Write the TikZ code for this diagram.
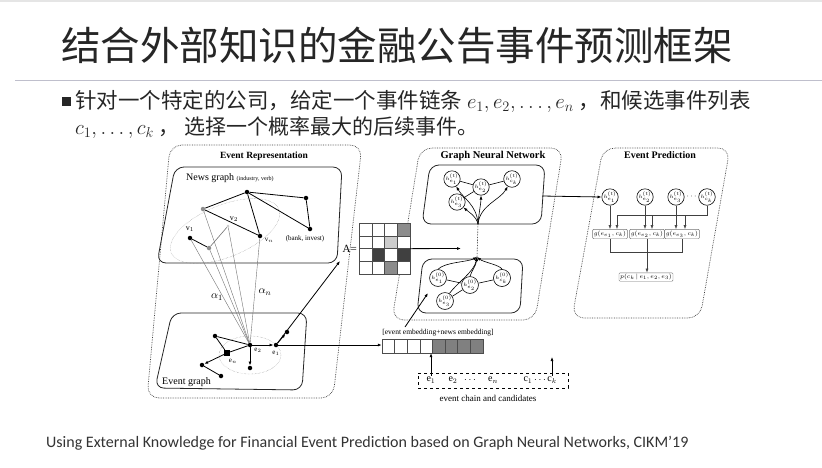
\documentclass[tikz,border=0pt]{standalone}
\usepackage{fontspec}
\setmainfont{Liberation Serif}
\newfontfamily\cjk{Noto Sans CJK SC}
\newfontfamily\footfont{Carlito}
\usetikzlibrary{arrows.meta,shapes.geometric}

\begin{document}
\begin{tikzpicture}
[x=1pt,y=-1pt,
  boxDecorate/.style={draw=black!75,densely dotted,line width=0.7pt,rounded corners=12pt},%
  panelDecorate/.style={draw=black!85,line width=0.8pt,rounded corners=9pt},%
  lineDecorate/.style={-,line width=0.8pt},%
  arrowDecorate/.style={-{Latex[length=4pt,width=3pt]},line width=0.6pt},%
  dotDecorate/.style={shape=circle,fill=black,inner sep=0pt,minimum size=4.5pt},%
  greyDecorate/.style={shape=circle,fill=black!45,inner sep=0pt,minimum size=4.5pt},%
  faintDecorate/.style={shape=circle,fill=black!20,inner sep=0pt,minimum size=3pt},%
  hDecorate/.style={shape=circle,draw,line width=0.6pt,inner sep=0pt,minimum size=14pt,font=\fontsize{5}{5}\selectfont},%
  gDecorate/.style={draw=black!55,rounded corners=1pt,inner sep=1.2pt,font=\fontsize{6}{6}\selectfont},%
  cellDecorate/.style={draw=black!70,line width=0.4pt,minimum size=12.7pt,inner sep=0pt},%
  labelDecorate/.style={inner sep=0pt,font=\fontsize{8}{8}\selectfont}]
\useasboundingbox (0,0) rectangle (822,467);
\fill[white] (0,0) rectangle (822,467);
\draw[black!10,line width=2pt] (0,1) -- (822,1);
\draw[blue!20!black!25,line width=1pt] (15,80) -- (822,80);

%% slide text
\node[anchor=west,inner sep=0pt,font=\cjk\fontsize{39.5}{39.5}\selectfont,text=black!85] (title) at (61,45) {结合外部知识的金融公告事件预测框架};
\node[fill=black!85,minimum size=9pt,inner sep=0pt] (bullet) at (66,101) {};
\node[anchor=west,inner sep=0pt,font=\cjk\fontsize{21.5}{21.5}\selectfont,text=black!85] (lineone) at (75,101) {针对一个特定的公司，给定一个事件链条 $e_1, e_2, \ldots, e_n$ ，和候选事件列表};
\node[anchor=west,inner sep=0pt,font=\cjk\fontsize{21}{21}\selectfont,text=black!85] (linetwo) at (75,128) {$c_1,\ldots,c_k$ ， 选择一个概率最大的后续事件。};
\node[anchor=west,inner sep=0pt,font=\footfont\fontsize{16}{16}\selectfont,text=black!80] (footer) at (46,443) {Using External Knowledge for Financial Event Prediction based on Graph Neural Networks, CIKM’19};

%% outer dotted panels
\draw[boxDecorate] (170,145) -- (362,145) -- (333,398) -- (147,398) -- cycle;
\draw[boxDecorate] (420,148) -- (563,148) -- (535,320) -- (392,320) -- cycle;
\draw[boxDecorate] (603,148) -- (730,148) -- (700,318) -- (572,318) -- cycle;
\node[font=\bfseries\fontsize{9.5}{10}\selectfont] (reprTitle) at (264,156) {Event Representation};
\node[font=\bfseries\fontsize{10.5}{11}\selectfont] (gnnTitle) at (493,156) {Graph Neural Network};
\node[font=\bfseries\fontsize{10}{10}\selectfont] (predTitle) at (660,155) {Event Prediction};

%% news graph
\draw[panelDecorate] (175,167) -- (342,167) -- (337,263) -- (157,263) -- cycle;
\node[anchor=west,inner sep=0pt,font=\fontsize{10}{10}\selectfont] (newsTitle) at (186,178) {News graph {\fontsize{6}{6}\selectfont (industry, verb)}};
\node[draw=black!45,densely dotted,ellipse,rotate=22,minimum width=116pt,minimum height=52pt,inner sep=0pt] (newsRing) at (225,231) {};
\foreach \nodename/\x/\y/\kind in {
  na/247/192/dotDecorate, nb/306/198/dotDecorate, nc/310/229/dotDecorate,
  nd/203/209/greyDecorate, vn/260/236/dotDecorate, vone/190/238/dotDecorate,
  ng/209/248/greyDecorate, vtwo/228/226/faintDecorate}
{
  \node (\nodename) at (\x,\y) [\kind] {};
}
\path
\foreach \startnode/\endnode in {nd/na, na/nb, nb/nc, na/nc, na/vn, nd/vn, vone/ng}
{
  (\startnode) edge[lineDecorate] (\endnode)
};
\draw[black!55,line width=0.6pt] (ng) -- (vtwo);
\node[labelDecorate] (lvone) at (190,229) {v$_1$};
\node[labelDecorate] (lvtwo) at (234,219) {v$_2$};
\node[labelDecorate,font=\fontsize{7}{7}\selectfont] (lvn) at (269,240) {v$_n$};
\node[labelDecorate,font=\fontsize{7}{7}\selectfont] (bank) at (305,239) {(bank, invest)};

%% event graph
\draw[panelDecorate] (172,313) -- (307,313) -- (302,390) -- (155,388) -- cycle;
\node[anchor=west,inner sep=0pt,font=\fontsize{10}{10}\selectfont] (eventTitle) at (162,382) {Event graph};
\node[draw=black!45,densely dotted,ellipse,minimum width=62pt,minimum height=38pt,inner sep=0pt] (eventRing) at (250,355) {};
\foreach \nodename/\x/\y in {
  etwo/250/345, eone/276/345, eup/287/332, etl/215/336,
  edown/250/368, eleft/202/365, elow/221/376}
{
  \node (\nodename) at (\x,\y) [dotDecorate] {};
}
\node (en) at (227,353) [dotDecorate,shape=rectangle,minimum size=6pt] {};
\path
\foreach \startnode/\endnode in {etl/etwo, etl/en, en/etwo, eleft/elow}
{
  (\startnode) edge[lineDecorate] (\endnode)
};
\foreach \startnode/\endnode in {etwo/eone, eone/eup, etwo/edown, en/eleft}
  \draw[arrowDecorate,line width=0.8pt] (\startnode) -- (\endnode);
\node[labelDecorate,font=\fontsize{7}{7}\selectfont] (letwo) at (258,350) {e$_2$};
\node[labelDecorate,font=\fontsize{7}{7}\selectfont] (leone) at (276,353) {e$_1$};
\node[labelDecorate,font=\fontsize{7}{7}\selectfont] (len) at (233,361) {e$_n$};

%% attention lines
\foreach \startnode in {nd, vone, ng, vtwo, vn}
  \draw[black!55,line width=0.4pt] (\startnode) -- (etwo);
\node[font=\fontsize{11}{11}\selectfont] (aone) at (217,297) {$\alpha_1$};
\node[font=\fontsize{11}{11}\selectfont] (an) at (265,292) {$\alpha_n$};

%% adjacency matrix
\node[anchor=east,inner sep=1pt,font=\fontsize{11}{11}\selectfont] (aLabel) at (358,249) {A=};
\foreach \sa/\sb/\sc/\sd [count=\r from 0] in {0/0/0/45, 0/0/20/0, 0/75/0/75, 0/0/45/0}
  \foreach \s [count=\c from 0] in {\sa,\sb,\sc,\sd}
    \node[cellDecorate,fill=black!\s] (m\r\c) at (365.4+12.7*\c,229.4+12.7*\r) {};
\coordinate (aTip) at (340,261);
\draw[arrowDecorate,line width=0.8pt] (eone) -- (aTip);
\coordinate (gnnIn) at (461,248.5);
\draw[arrowDecorate,line width=0.8pt] (m13.south east) -- (gnnIn);

%% graph neural network
\draw[panelDecorate] (430,165) -- (545,165) -- (541,224) -- (422,224) -- cycle;
\draw[panelDecorate] (423,259) -- (523,259) -- (520,313) -- (417,313) -- cycle;
\foreach \nodename/\x/\y/\lab in {
  nodeone/452/179/e_1, nodetwo/481/187/e_2, nodethree/512/179/c_k, nodefour/457/202/e_3}
{
  \node (\nodename) at (\x,\y) [hDecorate] {$h^{(t)}_{\lab}$};
}
\foreach \nodename/\x/\y/\lab in {
  lowone/438/278/e_1, lowtwo/470/285/e_2, lowthree/502/278/c_k, lowfour/445/301/e_3}
{
  \node (\nodename) at (\x,\y) [hDecorate] {$h^{(0)}_{\lab}$};
}
\path
\foreach \startnode/\endnode in {nodeone/nodetwo, nodetwo/nodethree, nodetwo/nodefour,
  lowone/lowtwo, lowtwo/lowthree, lowtwo/lowfour}
{
  (\startnode) edge[lineDecorate,line width=0.6pt] (\endnode)
};
\coordinate (upHub) at (478,224);
\coordinate (lowHub) at (477,257);
\draw[densely dotted,line width=0.6pt] (lowHub) -- (upHub);
\draw[arrowDecorate] (upHub) .. controls (477,205) and (463,198) .. (nodeone.-60);
\draw[arrowDecorate] (upHub) .. controls (479,212) and (481,203) .. (nodetwo.south);
\draw[arrowDecorate] (upHub) .. controls (480,205) and (500,200) .. (nodethree.-120);
\draw[arrowDecorate] (upHub) .. controls (476,216) and (470,213) .. (nodefour.-40);
\draw[arrowDecorate] (lowone.north) .. controls (445,262) and (468,262) .. (lowHub);
\draw[arrowDecorate] (lowtwo.north) .. controls (472,270) and (476,266) .. (lowHub);
\draw[arrowDecorate] (lowthree.north) .. controls (500,265) and (483,262) .. (lowHub);
\draw[arrowDecorate] (lowfour.60) .. controls (458,282) and (474,272) .. (lowHub);

%% embeddings and event chain
\node[font=\fontsize{7.5}{8}\selectfont] (embLabel) at (438,333) {[event embedding+news embedding]};
\foreach \i/\shade in {1/0,2/0,3/0,4/0,5/50,6/50,7/50,8/50}
  \node[cellDecorate,minimum width=12.6pt,minimum height=14pt,fill=black!\shade] (emb\i) at (375.7+12.6*\i,346) {};
\draw[arrowDecorate,line width=0.8pt] (eone) -- (eone -| emb1.west);
\coordinate (embFoot) at (405,327);
\coordinate (lowIn) at (428,293);
\draw[arrowDecorate,line width=0.8pt] (embFoot) -- (lowIn);
\node[draw,dashed,line width=0.8pt,minimum width=150pt,minimum height=15pt,inner sep=0pt] (chainBox) at (493,380.5) {};
\foreach \nodename/\x/\lab in {
  ceone/431/e$_1$, cetwo/453/e$_2$, cdots/470/$\cdots$, cen/493/e$_n$,
  cone/528/c$_1$, cdotstwo/540/$\cdots$, ck/552/c$_k$}
{
  \node (\nodename) at (\x,380) [inner sep=1pt,font=\fontsize{10}{10}\selectfont] {\lab};
}
\draw[arrowDecorate] (ceone.north) -- (ceone.north |- emb4.south);
\coordinate (ckTip) at (552,357);
\draw[arrowDecorate] (ck.north) -- (ckTip);
\node[font=\fontsize{9}{9}\selectfont] (chainLabel) at (488,398) {event chain and candidates};

%% event prediction
\coordinate (gnnOut) at (542,196);
\foreach \nodename/\x/\lab in {pone/610/e_1, ptwo/645/e_2, pthree/676/e_3, pfour/707/c_k}
{
  \node (\nodename) at (\x,197) [hDecorate,minimum size=15pt] {$h^{(t)}_{\lab}$};
}
\node (pdots) at (691.5,197) [inner sep=0pt,font=\fontsize{8}{8}\selectfont] {$\cdots$};
\draw[arrowDecorate,line width=0.8pt] (gnnOut) -- (pone.west);
\foreach \nodename/\x/\lab in {gone/610/e_1, gtwo/647/e_2, gthree/682/e_3}
{
  \node (\nodename) at (\x,234) [gDecorate] {$g(e_{\lab},c_k)$};
}
\coordinate (bone) at (617,215);
\coordinate (btwo) at (652,215);
\coordinate (bthree) at (685,215);
\draw[black!75,line width=0.6pt] (pfour.south) |- (bone);
\foreach \startnode/\endnode in {bone/gone, btwo/gtwo, bthree/gthree, pone/gone, ptwo/gtwo, pthree/gthree}
  \draw[arrowDecorate,black!75] (\startnode) -- (\startnode |- \endnode.north);
\node (pbox) at (646,277) [gDecorate] {$p(c_k\,|\,e_1,e_2,e_3)$};
\draw[black!75,line width=0.6pt] (gone.south) -- ++(0,13) -| (gthree.south);
\draw[arrowDecorate,black!75] (gtwo.south) -- (gtwo.south |- pbox.north);
\end{tikzpicture}
\end{document}
